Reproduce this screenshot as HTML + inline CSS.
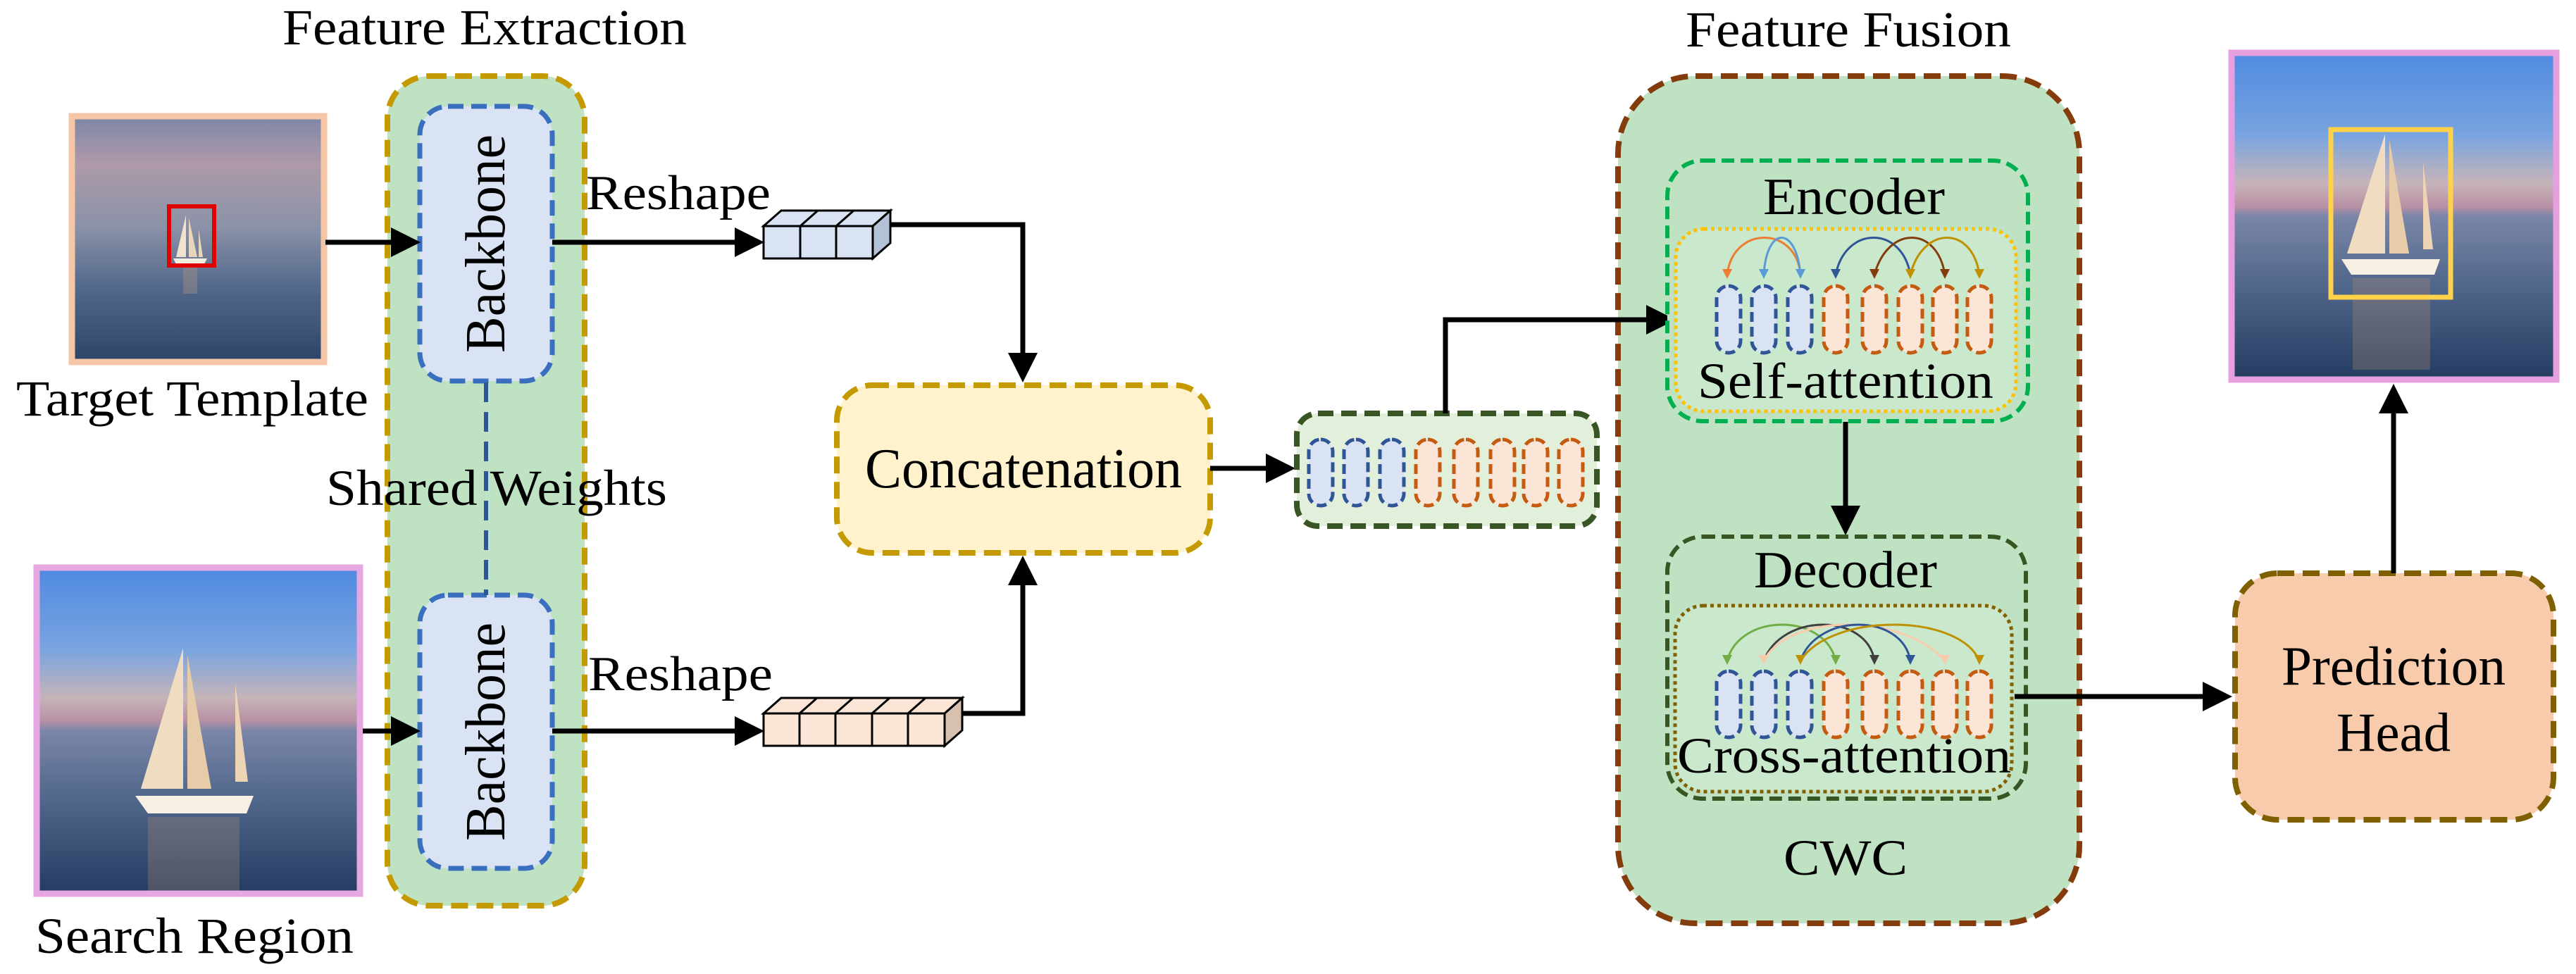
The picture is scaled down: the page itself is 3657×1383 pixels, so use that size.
<!DOCTYPE html>
<html><head><meta charset="utf-8"><style>
html,body{margin:0;padding:0;background:#fff}
svg{display:block}
text{font-family:"Liberation Serif","Times New Roman","DejaVu Serif",serif}
</style></head><body>
<svg width="3657" height="1383" viewBox="0 0 3657 1383" xmlns="http://www.w3.org/2000/svg">
<defs>
<marker id="ah" markerWidth="6" markerHeight="6" refX="5" refY="3" orient="auto" markerUnits="strokeWidth"><path d="M0,0 L6,3 L0,6 z" fill="#000"/></marker>
<linearGradient id="tsky" x1="0" y1="0" x2="0" y2="1">
<stop offset="0" stop-color="#7d86a8"/><stop offset="0.2" stop-color="#b09aa8"/><stop offset="0.22" stop-color="#a99aa8"/><stop offset="0.45" stop-color="#8b92a8"/><stop offset="0.7" stop-color="#52688a"/><stop offset="1" stop-color="#2c4468"/></linearGradient>
<linearGradient id="ssky" x1="0" y1="0" x2="0" y2="1">
<stop offset="0" stop-color="#4f8ae0"/><stop offset="0.25" stop-color="#78a4e0"/><stop offset="0.4" stop-color="#c6b4b8"/><stop offset="0.47" stop-color="#b890a4"/><stop offset="0.5" stop-color="#7b86a8"/><stop offset="0.7" stop-color="#52688c"/><stop offset="1" stop-color="#243c62"/></linearGradient>
<clipPath id="c2"><rect x="52" y="806" width="459" height="463"/></clipPath>
<clipPath id="c3"><rect x="3168" y="75" width="461" height="464"/></clipPath>
</defs>
<text x="688" y="63" font-size="72" text-anchor="middle" textLength="574" lengthAdjust="spacingAndGlyphs">Feature Extraction</text>
<text x="2624" y="66" font-size="72" text-anchor="middle" textLength="462" lengthAdjust="spacingAndGlyphs">Feature Fusion</text>

<!-- Template image -->
<rect x="102" y="165" width="358" height="349" fill="url(#tsky)"/>
<g transform="translate(272,335)">
<path d="M-8,-30 L-8,30 L-22,30 Z" fill="#f0e2cc"/><path d="M-4,-26 L-4,30 L8,30 Z" fill="#e8d6bc"/><path d="M10,-10 L10,30 L16,30 Z" fill="#e8d6bc"/>
<path d="M-26,32 L22,32 L18,40 L-22,40 Z" fill="#f4ecdc"/>
<rect x="-12" y="42" width="20" height="40" fill="#c8a080" opacity="0.3"/>
</g>
<rect x="102" y="165" width="358" height="349" fill="none" stroke="#f5c6a6" stroke-width="9"/>
<rect x="240" y="293" width="64" height="84" fill="none" stroke="#e00000" stroke-width="6"/>
<text x="273" y="590" font-size="72" text-anchor="middle" textLength="500" lengthAdjust="spacingAndGlyphs">Target Template</text>

<!-- Search image -->
<rect x="52" y="806" width="459" height="463" fill="url(#ssky)"/>
<g clip-path="url(#c2)"><g transform="translate(270,1060)">
<path d="M-10,-140 L-10,60 L-70,60 Z" fill="#f0dcc0"/><path d="M-4,-130 L-4,60 L30,60 Z" fill="#e6cca8"/><path d="M64,-90 L64,50 L82,50 Z" fill="#ecd4b4"/>
<path d="M-78,70 L90,70 L80,95 L-60,95 Z" fill="#f6efe2"/>
<rect x="-60" y="100" width="130" height="150" fill="#b08c70" opacity="0.3"/>
</g></g>
<rect x="52" y="806" width="459" height="463" fill="none" stroke="#e6a8e2" stroke-width="9"/>
<text x="276" y="1353" font-size="72" text-anchor="middle" textLength="452" lengthAdjust="spacingAndGlyphs">Search Region</text>

<!-- Extraction box -->
<rect x="550" y="108" width="280" height="1178" rx="60" fill="#bfe2c2" stroke="#c49a00" stroke-width="8" stroke-dasharray="24,12"/>
<rect x="596" y="151" width="188" height="390" rx="40" fill="#dae3f3" stroke="#3a6fc0" stroke-width="7" stroke-dasharray="22,11"/>
<rect x="596" y="845" width="188" height="388" rx="40" fill="#dae3f3" stroke="#3a6fc0" stroke-width="7" stroke-dasharray="22,11"/>
<line x1="690" y1="543" x2="690" y2="845" stroke="#2f5597" stroke-width="6" stroke-dasharray="28,14"/>
<text transform="translate(716,346) rotate(-90)" font-size="80" text-anchor="middle" textLength="310" lengthAdjust="spacingAndGlyphs">Backbone</text>
<text transform="translate(716,1039) rotate(-90)" font-size="80" text-anchor="middle" textLength="310" lengthAdjust="spacingAndGlyphs">Backbone</text>
<text x="705" y="717" font-size="72" text-anchor="middle" textLength="484" lengthAdjust="spacingAndGlyphs">Shared Weights</text>
<text x="963" y="297" font-size="70" text-anchor="middle" textLength="262" lengthAdjust="spacingAndGlyphs">Reshape</text>
<text x="966" y="980" font-size="70" text-anchor="middle" textLength="262" lengthAdjust="spacingAndGlyphs">Reshape</text>

<line x1="462" y1="344" x2="590" y2="344" stroke="#000" stroke-width="7" marker-end="url(#ah)"/>
<line x1="515" y1="1038" x2="590" y2="1038" stroke="#000" stroke-width="7" marker-end="url(#ah)"/>
<line x1="784" y1="344" x2="1078" y2="344" stroke="#000" stroke-width="7" marker-end="url(#ah)"/>
<line x1="784" y1="1038" x2="1078" y2="1038" stroke="#000" stroke-width="7" marker-end="url(#ah)"/>

<g stroke="#000" stroke-width="3" fill="#dae3f3">
<path d="M1084,321 L1109,299 L1264,299 L1239,321 Z"/>
<path d="M1239,321 L1264,299 L1264,345 L1239,367 Z" fill="#b4c2d8"/>
<rect x="1084" y="321" width="155" height="46"/>
<line x1="1136" y1="321" x2="1136" y2="367"/><line x1="1187" y1="321" x2="1187" y2="367"/>
<line x1="1136" y1="321" x2="1161" y2="299"/><line x1="1187" y1="321" x2="1212" y2="299"/>
</g>
<g stroke="#000" stroke-width="3" fill="#fbe5d6">
<path d="M1084,1013 L1109,991 L1366,991 L1341,1013 Z"/>
<path d="M1341,1013 L1366,991 L1366,1037 L1341,1059 Z" fill="#d8c0b0"/>
<rect x="1084" y="1013" width="257" height="46"/>
<line x1="1135" y1="1013" x2="1135" y2="1059"/><line x1="1186" y1="1013" x2="1186" y2="1059"/><line x1="1238" y1="1013" x2="1238" y2="1059"/><line x1="1289" y1="1013" x2="1289" y2="1059"/>
<line x1="1135" y1="1013" x2="1160" y2="991"/><line x1="1186" y1="1013" x2="1211" y2="991"/><line x1="1238" y1="1013" x2="1263" y2="991"/><line x1="1289" y1="1013" x2="1314" y2="991"/>
</g>
<polyline points="1264,319 1452,319 1452,536" fill="none" stroke="#000" stroke-width="7" marker-end="url(#ah)"/>
<polyline points="1366,1013 1452,1013 1452,796" fill="none" stroke="#000" stroke-width="7" marker-end="url(#ah)"/>

<rect x="1188" y="547" width="530" height="238" rx="50" fill="#fff2cc" stroke="#c49a00" stroke-width="8" stroke-dasharray="24,12"/>
<text x="1453" y="692" font-size="80" text-anchor="middle" textLength="450" lengthAdjust="spacingAndGlyphs">Concatenation</text>
<line x1="1718" y1="665" x2="1832" y2="665" stroke="#000" stroke-width="7" marker-end="url(#ah)"/>

<rect x="1841" y="587" width="426" height="160" rx="30" fill="#e2efda" stroke="#375623" stroke-width="8" stroke-dasharray="22,11"/>
<g stroke-width="5" stroke-dasharray="14,7">
<rect x="1858" y="624" width="34" height="94" rx="17" fill="#dae3f3" stroke="#2f5597"/>
<rect x="1908" y="624" width="34" height="94" rx="17" fill="#dae3f3" stroke="#2f5597"/>
<rect x="1959" y="624" width="34" height="94" rx="17" fill="#dae3f3" stroke="#2f5597"/>
<rect x="2010" y="624" width="34" height="94" rx="17" fill="#fbe5d6" stroke="#c55a11"/>
<rect x="2064" y="624" width="34" height="94" rx="17" fill="#fbe5d6" stroke="#c55a11"/>
<rect x="2116" y="624" width="34" height="94" rx="17" fill="#fbe5d6" stroke="#c55a11"/>
<rect x="2163" y="624" width="34" height="94" rx="17" fill="#fbe5d6" stroke="#c55a11"/>
<rect x="2213" y="624" width="34" height="94" rx="17" fill="#fbe5d6" stroke="#c55a11"/>
</g>

<rect x="2297" y="108" width="655" height="1203" rx="110" fill="#bfe2c2" stroke="#843c0c" stroke-width="8" stroke-dasharray="24,12"/>
<polyline points="2052,587 2052,454 2372,454" fill="none" stroke="#000" stroke-width="7" marker-end="url(#ah)"/>

<rect x="2367" y="228" width="512" height="370" rx="50" fill="#bfe2c2" stroke="#00b050" stroke-width="6" stroke-dasharray="18,9"/>
<rect x="2379" y="325" width="483" height="259" rx="40" fill="#c9e8cc" stroke="#ffc000" stroke-width="5" stroke-dasharray="5,5"/>
<g stroke-width="5" stroke-dasharray="14,7">
<rect x="2437" y="406" width="34" height="95" rx="17" fill="#dae3f3" stroke="#2f5597"/>
<rect x="2487" y="406" width="34" height="95" rx="17" fill="#dae3f3" stroke="#2f5597"/>
<rect x="2538" y="406" width="34" height="95" rx="17" fill="#dae3f3" stroke="#2f5597"/>
<rect x="2589" y="406" width="34" height="95" rx="17" fill="#fbe5d6" stroke="#c55a11"/>
<rect x="2644" y="406" width="34" height="95" rx="17" fill="#fbe5d6" stroke="#c55a11"/>
<rect x="2695" y="406" width="34" height="95" rx="17" fill="#fbe5d6" stroke="#c55a11"/>
<rect x="2744" y="406" width="34" height="95" rx="17" fill="#fbe5d6" stroke="#c55a11"/>
<rect x="2793" y="406" width="34" height="95" rx="17" fill="#fbe5d6" stroke="#c55a11"/>
</g>
<g fill="none" stroke-width="3">
<path d="M2452,390 C2460,320 2550,320 2556,390" stroke="#ed7d31"/>
<path d="M2504,390 C2508,320 2550,320 2556,390" stroke="#5b9bd5"/>
<path d="M2606,390 C2620,320 2700,320 2712,390" stroke="#2f5597"/>
<path d="M2661,390 C2680,320 2750,320 2761,390" stroke="#843c0c"/>
<path d="M2712,390 C2730,320 2800,320 2810,390" stroke="#bf9000"/>
</g>
<g>
<path d="M2445,382 L2459,382 L2452,396 Z" fill="#ed7d31"/>
<path d="M2497,382 L2511,382 L2504,396 Z" fill="#5b9bd5"/>
<path d="M2549,382 L2563,382 L2556,396 Z" fill="#5b9bd5"/>
<path d="M2599,382 L2613,382 L2606,396 Z" fill="#2f5597"/>
<path d="M2654,382 L2668,382 L2661,396 Z" fill="#843c0c"/>
<path d="M2705,382 L2719,382 L2712,396 Z" fill="#bf9000"/>
<path d="M2754,382 L2768,382 L2761,396 Z" fill="#843c0c"/>
<path d="M2803,382 L2817,382 L2810,396 Z" fill="#bf9000"/>
</g>

<line x1="2620" y1="599" x2="2620" y2="753" stroke="#000" stroke-width="7" marker-end="url(#ah)"/>

<rect x="2367" y="762" width="509" height="372" rx="50" fill="#bfe2c2" stroke="#375623" stroke-width="6" stroke-dasharray="18,9"/>
<rect x="2378" y="860" width="478" height="264" rx="40" fill="#c9e8cc" stroke="#806000" stroke-width="5" stroke-dasharray="5,5"/>
<g stroke-width="5" stroke-dasharray="14,7">
<rect x="2437" y="953" width="34" height="94" rx="17" fill="#dae3f3" stroke="#2f5597"/>
<rect x="2487" y="953" width="34" height="94" rx="17" fill="#dae3f3" stroke="#2f5597"/>
<rect x="2538" y="953" width="34" height="94" rx="17" fill="#dae3f3" stroke="#2f5597"/>
<rect x="2589" y="953" width="34" height="94" rx="17" fill="#fbe5d6" stroke="#c55a11"/>
<rect x="2644" y="953" width="34" height="94" rx="17" fill="#fbe5d6" stroke="#c55a11"/>
<rect x="2695" y="953" width="34" height="94" rx="17" fill="#fbe5d6" stroke="#c55a11"/>
<rect x="2744" y="953" width="34" height="94" rx="17" fill="#fbe5d6" stroke="#c55a11"/>
<rect x="2793" y="953" width="34" height="94" rx="17" fill="#fbe5d6" stroke="#c55a11"/>
</g>
<g fill="none" stroke-width="3">
<path d="M2452,938 C2470,870 2590,870 2606,938" stroke="#70ad47"/>
<path d="M2504,938 C2530,870 2650,870 2661,938" stroke="#404040"/>
<path d="M2504,938 C2540,870 2700,870 2761,938" stroke="#f8cbad"/>
<path d="M2556,938 C2580,870 2700,870 2712,938" stroke="#2f5597"/>
<path d="M2556,938 C2600,870 2780,870 2810,938" stroke="#bf9000"/>
</g>
<g>
<path d="M2445,930 L2459,930 L2452,944 Z" fill="#70ad47"/>
<path d="M2497,930 L2511,930 L2504,944 Z" fill="#f8cbad"/>
<path d="M2549,930 L2563,930 L2556,944 Z" fill="#bf9000"/>
<path d="M2599,930 L2613,930 L2606,944 Z" fill="#70ad47"/>
<path d="M2654,930 L2668,930 L2661,944 Z" fill="#404040"/>
<path d="M2705,930 L2719,930 L2712,944 Z" fill="#2f5597"/>
<path d="M2754,930 L2768,930 L2761,944 Z" fill="#f8cbad"/>
<path d="M2803,930 L2817,930 L2810,944 Z" fill="#bf9000"/>
</g>
<text x="2632" y="304" font-size="74" text-anchor="middle" textLength="258" lengthAdjust="spacingAndGlyphs">Encoder</text>
<text x="2620" y="565" font-size="72" text-anchor="middle" textLength="420" lengthAdjust="spacingAndGlyphs">Self-attention</text>
<text x="2620" y="834" font-size="74" text-anchor="middle" textLength="260" lengthAdjust="spacingAndGlyphs">Decoder</text>
<text x="2618" y="1097" font-size="72" text-anchor="middle" textLength="474" lengthAdjust="spacingAndGlyphs">Cross-attention</text>
<text x="2620" y="1242" font-size="72" text-anchor="middle" textLength="176" lengthAdjust="spacingAndGlyphs">CWC</text>

<line x1="2860" y1="989" x2="3162" y2="989" stroke="#000" stroke-width="7" marker-end="url(#ah)"/>
<rect x="3173" y="814" width="452" height="350" rx="60" fill="#f8cbad" stroke="#7f6000" stroke-width="8" stroke-dasharray="24,12"/>
<text x="3398" y="972" font-size="78" text-anchor="middle" textLength="318" lengthAdjust="spacingAndGlyphs">Prediction</text>
<text x="3398" y="1066" font-size="78" text-anchor="middle" textLength="162" lengthAdjust="spacingAndGlyphs">Head</text>
<line x1="3398" y1="814" x2="3398" y2="552" stroke="#000" stroke-width="7" marker-end="url(#ah)"/>

<rect x="3168" y="75" width="461" height="464" fill="url(#ssky)"/>
<g clip-path="url(#c3)"><g transform="translate(3390,310)">
<path d="M-4,-120 L-4,50 L-58,50 Z" fill="#f0dcc0"/><path d="M2,-112 L2,50 L30,50 Z" fill="#e6cca8"/><path d="M50,-80 L50,44 L64,44 Z" fill="#ecd4b4"/>
<path d="M-66,58 L74,58 L66,80 L-52,80 Z" fill="#f6efe2"/>
<rect x="-50" y="85" width="110" height="130" fill="#b08c70" opacity="0.3"/>
</g></g>
<rect x="3168" y="75" width="461" height="464" fill="none" stroke="#e6a0e0" stroke-width="9"/>
<rect x="3309" y="184" width="170" height="238" fill="none" stroke="#ffd24a" stroke-width="7"/>
</svg>
</body></html>
